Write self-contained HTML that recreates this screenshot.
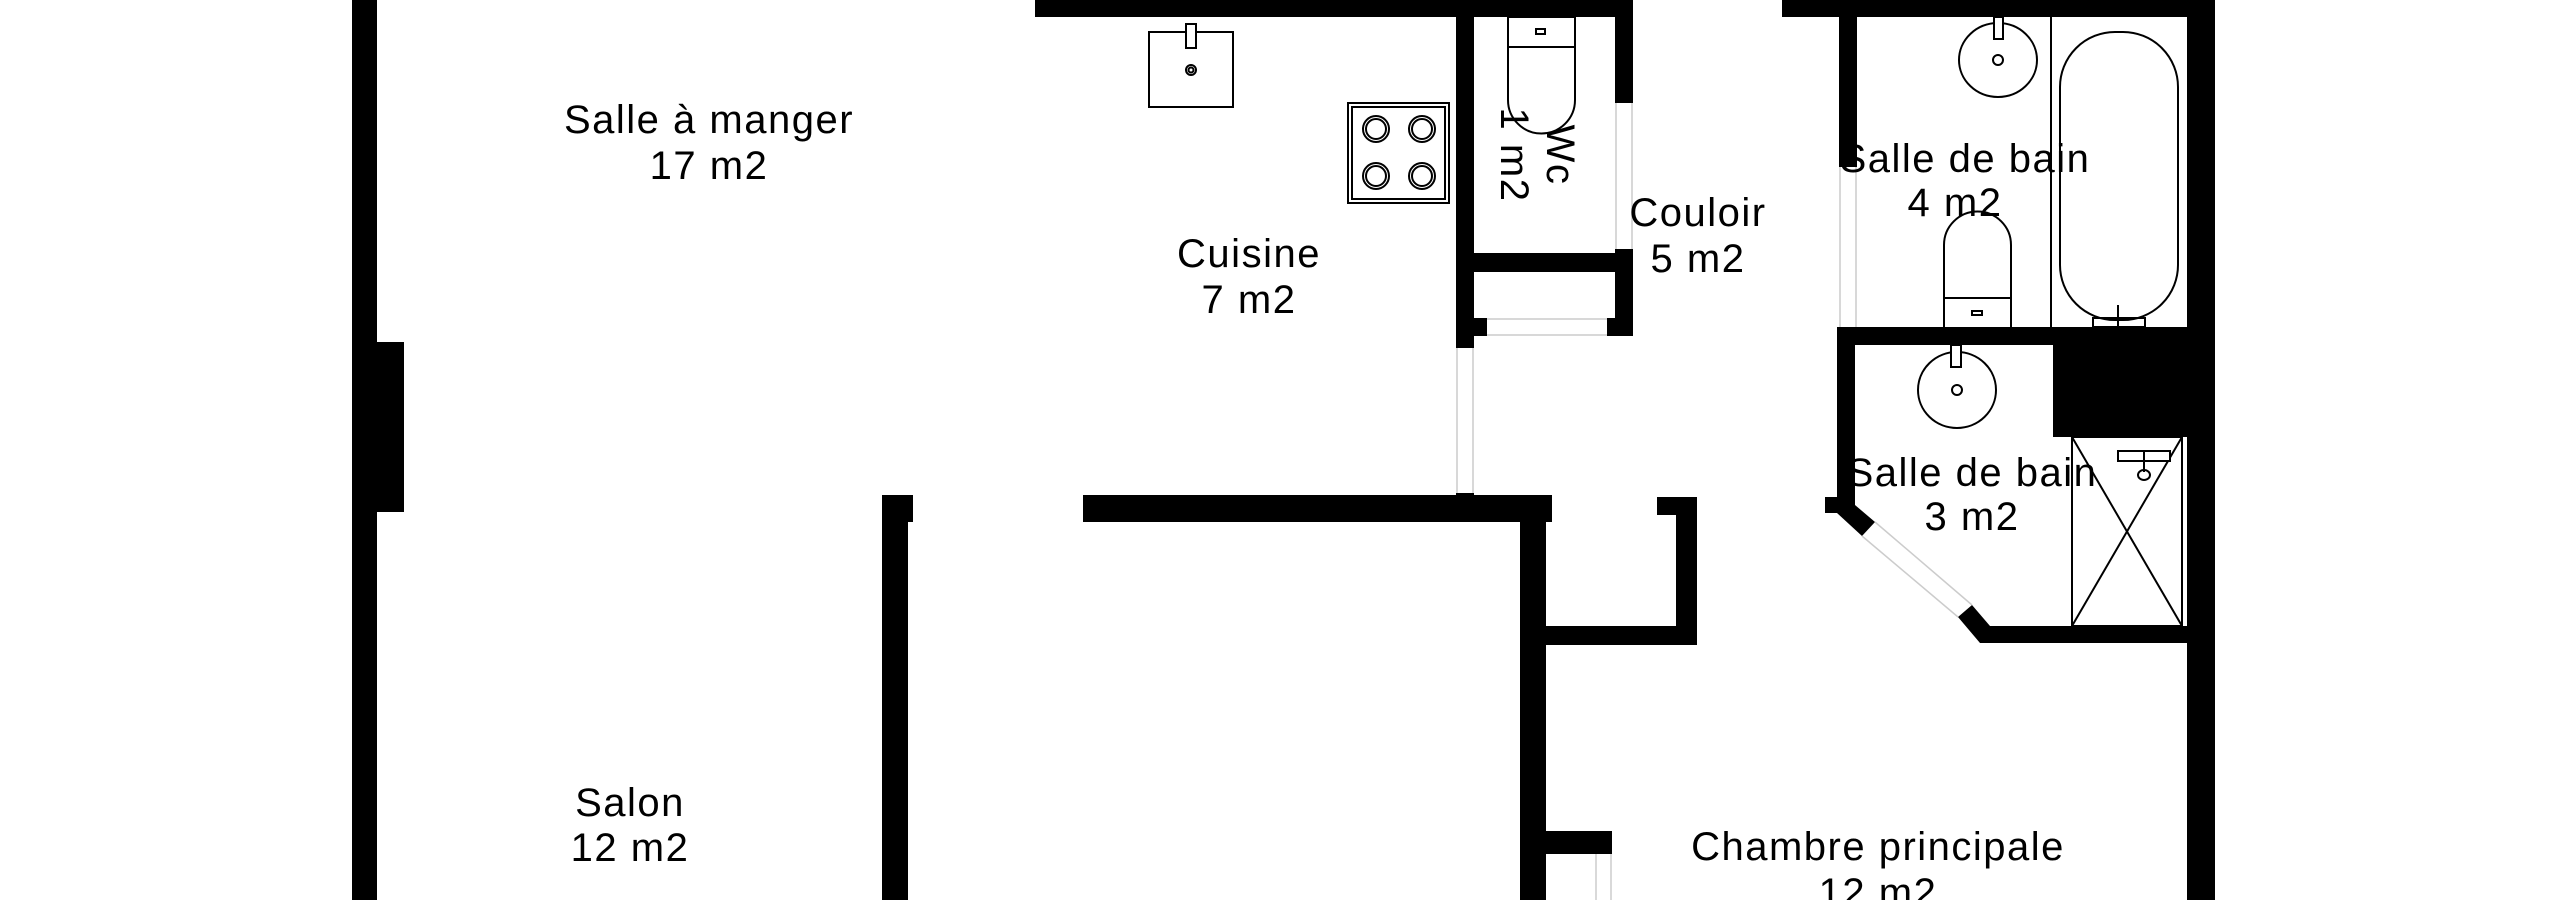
<!DOCTYPE html>
<html><head><meta charset="utf-8"><style>
html,body{margin:0;padding:0;background:#fff;}
svg{display:block;}
text{font-family:"Liberation Sans",sans-serif;font-size:40px;letter-spacing:1.5px;fill:#000;text-anchor:middle;}
</style></head><body>
<svg width="2560" height="900" viewBox="0 0 2560 900" xmlns="http://www.w3.org/2000/svg">
<g fill="#000">
<rect x="352" y="0" width="25" height="900"/>
<rect x="352" y="342" width="52" height="170"/>
<rect x="1035" y="0" width="598" height="17"/>
<rect x="1456" y="0" width="18" height="348"/>
<rect x="1615" y="0" width="18" height="103"/>
<rect x="1615" y="249" width="18" height="87"/>
<rect x="1474" y="253" width="141" height="19"/>
<rect x="1474" y="318" width="13" height="18"/>
<rect x="1607" y="318" width="8" height="18"/>
<rect x="1456" y="493" width="18" height="10"/>
<rect x="882" y="495" width="31" height="27"/>
<rect x="882" y="495" width="26" height="405"/>
<rect x="1083" y="495" width="469" height="27"/>
<rect x="1520" y="495" width="26" height="405"/>
<rect x="1657" y="497" width="40" height="18"/>
<rect x="1676" y="497" width="21" height="148"/>
<rect x="1546" y="626" width="151" height="19"/>
<rect x="1546" y="831" width="66" height="23"/>
<rect x="1595" y="831" width="17" height="23"/>
<rect x="1782" y="0" width="433" height="17"/>
<rect x="2187" y="0" width="28" height="900"/>
<rect x="1839" y="0" width="18" height="167"/>
<rect x="1837" y="327" width="350" height="18"/>
<rect x="1837" y="327" width="18" height="186"/>
<rect x="1825" y="497" width="30" height="16"/>
<rect x="2053" y="345" width="134" height="92"/>
<rect x="1980" y="626" width="207" height="17"/>
<polygon points="1837,513 1855,505 1875,522 1862,536"/>
<polygon points="1958,617 1972,605 1990,626 1980,643"/>
</g>
<g fill="none" stroke="#ccc" stroke-width="1.5">
<line x1="1457" y1="348" x2="1457" y2="493"/><line x1="1473" y1="348" x2="1473" y2="493"/>
<line x1="1616" y1="103" x2="1616" y2="249"/><line x1="1632" y1="103" x2="1632" y2="249"/>
<line x1="1487" y1="319" x2="1607" y2="319"/><line x1="1487" y1="335" x2="1607" y2="335"/>
<line x1="1840" y1="167" x2="1840" y2="327"/><line x1="1856" y1="167" x2="1856" y2="327"/>
<line x1="1596" y1="854" x2="1596" y2="900"/><line x1="1611" y1="854" x2="1611" y2="900"/>
<line x1="1862" y1="536" x2="1958" y2="617"/><line x1="1875" y1="522" x2="1972" y2="605"/>
</g>
<g fill="none" stroke="#000" stroke-width="2">
<rect x="1149" y="32" width="84" height="75"/>
<rect x="1186" y="24" width="10" height="24" fill="#fff"/>
<circle cx="1191" cy="70" r="5"/><circle cx="1191" cy="70" r="2.5"/>
<rect x="1348" y="103" width="101" height="100"/>
<rect x="1352" y="107" width="93" height="92"/>
<circle cx="1376" cy="129" r="13"/><circle cx="1376" cy="129" r="10"/>
<circle cx="1422" cy="129" r="13"/><circle cx="1422" cy="129" r="10"/>
<circle cx="1376" cy="176" r="13"/><circle cx="1376" cy="176" r="10"/>
<circle cx="1422" cy="176" r="13"/><circle cx="1422" cy="176" r="10"/>
<rect x="1508" y="17" width="67" height="30"/>
<rect x="1536" y="29" width="9" height="5"/>
<path d="M1508,47 L1508,100 A33.5,33.5 0 0 0 1575,100 L1575,47"/>
<line x1="2051" y1="17" x2="2051" y2="327"/>
<rect x="2060" y="32" width="118" height="288" rx="55" ry="55"/>
<ellipse cx="1998" cy="60" rx="39" ry="37"/>
<rect x="1994" y="17" width="9" height="22" fill="#fff"/>
<circle cx="1998" cy="60" r="5"/>
<path d="M1944,327 L1944,245 A33.5,33.5 0 0 1 2011,245 L2011,327"/>
<line x1="1944" y1="298" x2="2011" y2="298"/>
<rect x="1972" y="311" width="10" height="4"/>
<rect x="2093" y="318" width="52" height="9"/>
<line x1="2118" y1="305" x2="2118" y2="327"/>
<ellipse cx="1957" cy="390" rx="39" ry="38"/>
<rect x="1951" y="345" width="10" height="22" fill="#fff"/>
<circle cx="1957" cy="390" r="5"/>
<rect x="2072" y="437" width="110" height="189"/>
<line x1="2072" y1="437" x2="2182" y2="626"/><line x1="2182" y1="437" x2="2072" y2="626"/>
<rect x="2118" y="451" width="52" height="10" fill="#fff"/>
<line x1="2144" y1="451" x2="2144" y2="472"/>
<ellipse cx="2144" cy="475" rx="6" ry="5"/>
</g>
<text x="709" y="133">Salle à manger</text>
<text x="709" y="179">17 m2</text>
<text x="1249" y="267">Cuisine</text>
<text x="1249" y="313">7 m2</text>
<text x="1698" y="226">Couloir</text>
<text x="1698" y="272">5 m2</text>
<text x="1965" y="172">Salle de bain</text>
<text x="1955" y="216">4 m2</text>
<text x="1972" y="486">Salle de bain</text>
<text x="1972" y="530">3 m2</text>
<text x="630" y="816">Salon</text>
<text x="630" y="861">12 m2</text>
<text x="1878" y="860">Chambre principale</text>
<text x="1878" y="906">12 m2</text>
<g transform="translate(1535,155) rotate(90)">
<text x="0" y="-12">Wc</text>
<text x="0" y="34">1 m2</text>
</g>
</svg>
</body></html>
